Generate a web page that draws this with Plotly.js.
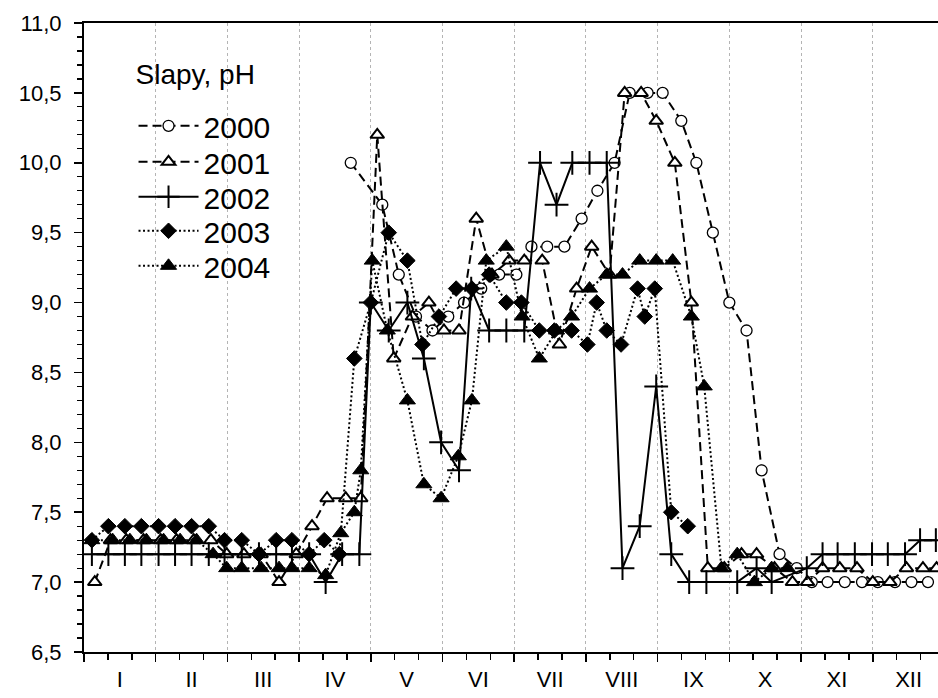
<!DOCTYPE html>
<html><head><meta charset="utf-8">
<script src="https://cdn.plot.ly/plotly-3.0.1.min.js"></script>
<style>html,body{margin:0;padding:0;background:#fff}#chart{width:938px;height:698px}</style>
</head><body><div id="chart"></div>
<script>
// month axis: x in month units (0 = 1 January, 12 = end of December)
const monthLabels = ["I","II","III","IV","V","VI","VII","VIII","IX","X","XI","XII"];
const monthCenters = [0.5,1.5,2.5,3.5,4.5,5.5,6.5,7.5,8.5,9.5,10.5,11.5];
const monthEdges = [0,1,2,3,4,5,6,7,8,9,10,11,12];
const seriesNames = ["2000","2001","2002","2003","2004"];

const x2000 = [3.72,4.16,4.39,4.63,4.86,5.08,5.30,5.54,5.79,6.03,6.24,6.46,6.70,6.94,7.16,7.40,7.61,7.86,8.07,8.33,8.54,8.77,9.00,9.24,9.45,9.70,9.94,10.15,10.37,10.61,10.85,11.07,11.31,11.54,11.77];
const y2000 = [10.0,9.7,9.2,8.9,8.8,8.9,9.0,9.1,9.2,9.2,9.4,9.4,9.4,9.6,9.8,10.0,10.5,10.5,10.5,10.3,10.0,9.5,9.0,8.8,7.8,7.2,7.1,7.0,7.0,7.0,7.0,7.0,7.0,7.0,7.0];

const x2001 = [0.15,0.37,0.59,0.83,1.07,1.29,1.53,1.77,1.99,2.23,2.47,2.72,2.96,3.18,3.39,3.65,3.86,4.09,4.32,4.58,4.81,5.02,5.23,5.47,5.69,5.93,6.14,6.39,6.63,6.87,7.08,7.33,7.54,7.77,7.98,8.24,8.47,8.70,8.93,9.17,9.38,9.63,9.88,10.09,10.30,10.54,10.78,11.00,11.24,11.47,11.70,11.89];
const y2001 = [7.0,7.3,7.3,7.3,7.3,7.3,7.3,7.3,7.2,7.2,7.2,7.0,7.2,7.4,7.6,7.6,7.6,10.2,8.6,8.9,9.0,8.8,8.8,9.6,9.2,9.3,9.3,9.3,8.7,9.1,9.4,9.2,10.5,10.5,10.3,10.0,9.0,7.1,7.1,7.2,7.2,7.1,7.0,7.0,7.1,7.1,7.1,7.0,7.0,7.1,7.1,7.1];

const x2002 = [0.11,0.34,0.57,0.80,1.04,1.27,1.50,1.74,1.96,2.20,2.44,2.68,2.90,3.14,3.37,3.60,3.84,4.00,4.25,4.51,4.74,4.98,5.23,5.40,5.65,5.89,6.14,6.36,6.59,6.81,7.05,7.29,7.51,7.75,7.98,8.19,8.44,8.68,9.11,9.38,9.59,10.08,10.30,10.51,10.75,10.99,11.21,11.45,11.66,11.88];
const y2002 = [7.2,7.2,7.2,7.2,7.2,7.2,7.2,7.2,7.2,7.2,7.2,7.2,7.2,7.2,7.0,7.2,7.2,9.0,8.8,9.0,8.6,8.0,7.8,9.1,8.8,8.8,8.8,10.0,9.7,10.0,10.0,10.0,7.1,7.4,8.4,7.2,7.0,7.0,7.0,7.1,7.0,7.1,7.2,7.2,7.2,7.2,7.2,7.2,7.3,7.3];

const x2003 = [0.11,0.34,0.57,0.80,1.04,1.27,1.50,1.74,1.96,2.20,2.44,2.68,2.90,3.14,3.35,3.56,3.77,4.00,4.25,4.51,4.72,4.95,5.19,5.41,5.65,5.89,6.10,6.35,6.56,6.80,7.02,7.15,7.29,7.49,7.72,7.82,7.96,8.19,8.42];
const y2003 = [7.3,7.4,7.4,7.4,7.4,7.4,7.4,7.4,7.3,7.3,7.2,7.3,7.3,7.2,7.3,7.2,8.6,9.0,9.5,9.3,8.7,8.9,9.1,9.1,9.2,9.0,9.0,8.8,8.8,8.8,8.7,9.0,8.8,8.7,9.1,8.9,9.1,7.5,7.4];

const x2004 = [0.11,0.40,0.64,0.87,1.11,1.34,1.57,1.80,1.99,2.20,2.47,2.72,2.90,3.14,3.37,3.58,3.77,3.86,4.02,4.23,4.51,4.74,4.98,5.22,5.41,5.61,5.89,6.11,6.35,6.59,6.80,7.05,7.29,7.51,7.75,7.98,8.21,8.47,8.65,8.89,9.11,9.35,9.59,9.81];
const y2004 = [7.3,7.3,7.3,7.3,7.3,7.3,7.3,7.2,7.1,7.1,7.1,7.1,7.1,7.1,7.05,7.35,7.5,7.8,9.3,8.8,8.3,7.7,7.6,7.9,8.3,9.3,9.4,8.9,8.6,8.8,8.9,9.1,9.2,9.2,9.3,9.3,9.3,8.9,8.4,7.1,7.2,7.0,7.1,7.1];

const FONT = "Arial, 'Liberation Sans', Helvetica, sans-serif";
const DASH = "9px,5px";
const DOT = "2px,2.5px";

const traces = [
  {x:x2000, y:y2000, name:seriesNames[0], mode:"lines+markers",
   line:{color:"#000", width:2, dash:DASH},
   marker:{symbol:"circle", size:11, color:"#fff", line:{color:"#000", width:1.3}}},
  {x:x2001, y:y2001, name:seriesNames[1], mode:"lines+markers",
   line:{color:"#000", width:2, dash:DASH},
   marker:{symbol:"triangle-up", size:12, color:"#fff", line:{color:"#000", width:2}}},
  {x:x2002, y:y2002, name:seriesNames[2], mode:"lines+markers",
   line:{color:"#000", width:2},
   marker:{symbol:"cross-thin-open", size:17, color:"#000", line:{color:"#000", width:2}}},
  {x:x2003, y:y2003, name:seriesNames[3], mode:"lines+markers",
   line:{color:"#000", width:2, dash:DOT},
   marker:{symbol:"diamond", size:12, color:"#000", line:{color:"#000", width:1}}},
  {x:x2004, y:y2004, name:seriesNames[4], mode:"lines+markers",
   line:{color:"#000", width:2, dash:DOT},
   marker:{symbol:"triangle-up", size:14, color:"#000", line:{color:"#000", width:1}}}
];

// invisible helper trace so the overlay axis (month edges: grid + ticks) is drawn
traces.push({x:[0,12], y:[6.5,6.5], xaxis:"x2", yaxis:"y", mode:"markers",
  marker:{opacity:0}, showlegend:false, hoverinfo:"skip"});

const xRange = [0, 11.91];

const layout = {
  width:938, height:698,
  margin:{l:84, r:0, t:23, b:46},
  paper_bgcolor:"#fff", plot_bgcolor:"#fff",
  separators:", ",
  font:{family:FONT, color:"#000", size:21},
  showlegend:true,
  legend:{x:0.058, xanchor:"left", y:0.97, yanchor:"top",
    bgcolor:"rgba(0,0,0,0)", borderwidth:0,
    font:{family:FONT, size:30, color:"#000"},
    title:{text:"Slapy, pH", font:{family:FONT, size:28, color:"#000"}},
    itemwidth:60, tracegroupgap:0},
  xaxis:{range:xRange, tickmode:"array", tickvals:monthCenters, ticktext:monthLabels,
    ticks:"", showgrid:false, zeroline:false,
    showline:true, linecolor:"#000", linewidth:2, mirror:true,
    tickfont:{family:FONT, size:22, color:"#000"}, ticklabelstandoff:7,
    minor:{tick0:0, dtick:1/3, ticks:"outside", ticklen:6, tickwidth:1.5, tickcolor:"#000", showgrid:false}},
  xaxis2:{range:xRange, overlaying:"x", anchor:"y", side:"bottom", tickmode:"array",
    tickvals:monthEdges, showticklabels:false, ticks:"outside", ticklen:9, tickwidth:1.5, tickcolor:"#000",
    showgrid:true, gridcolor:"#b4b4b4", griddash:"dot", gridwidth:1, zeroline:false, showline:false},
  yaxis:{range:[6.5, 11.0], tickmode:"linear", tick0:6.5, dtick:0.5, tickformat:".1f",
    ticks:"outside", ticklen:8, tickwidth:1.5, tickcolor:"#000",
    showline:true, linecolor:"#000", linewidth:2, showgrid:false, zeroline:false,
    tickfont:{family:FONT, size:22, color:"#000"}, ticklabelstandoff:8,
    minor:{dtick:0.1, ticks:"outside", ticklen:5, tickwidth:1.2, tickcolor:"#000", showgrid:false}}
};

// legend rows in the original are packed tighter than Plotly's default line height
const legendTitleCenter = 75;
const legendRowCenters = [127, 163, 198, 232, 267];

function shiftY(el, dy) {
  const t = el.getAttribute("transform") || "";
  el.setAttribute("transform", (t + " translate(0," + dy.toFixed(2) + ")").trim());
}

Plotly.newPlot("chart", traces, layout, {displayModeBar:false, staticPlot:true}).then(function (gd) {
  const rootTop = gd.getBoundingClientRect().top;
  const title = gd.querySelector("g.legend .legendtitletext");
  if (title) {
    const r = title.getBoundingClientRect();
    shiftY(title, legendTitleCenter - ((r.top + r.bottom) / 2 - rootTop));
  }
  const items = gd.querySelectorAll("g.legend g.traces");
  items.forEach(function (g, i) {
    const txt = g.querySelector("text.legendtext");
    if (!txt || i >= legendRowCenters.length) return;
    const r = txt.getBoundingClientRect();
    shiftY(g, legendRowCenters[i] - ((r.top + r.bottom) / 2 - rootTop));
  });
});
</script>
</body></html>
